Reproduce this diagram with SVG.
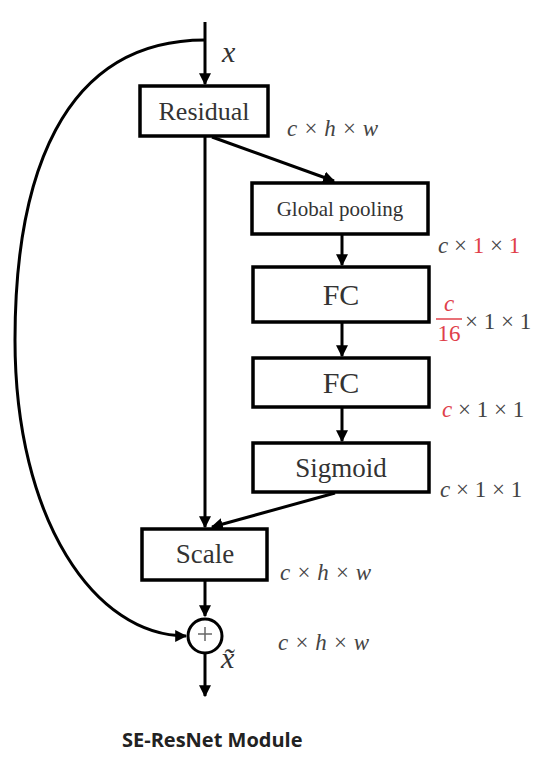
<svg xmlns="http://www.w3.org/2000/svg" width="560" height="762" viewBox="0 0 560 762">
<style>
.box{fill:#fff;stroke:#000;stroke-width:3.5}
.lbl{font-family:"Liberation Serif","Times New Roman",serif;fill:#333;text-anchor:middle}
.dim{font-family:"Liberation Serif","Times New Roman",serif;font-style:italic;font-size:23px;fill:#444}
.num{font-style:normal}
.red{fill:#e0404a}
.var{font-family:"Liberation Serif","Times New Roman",serif;font-style:italic;font-size:30px;fill:#333}
.conn{fill:none;stroke:#000;stroke-width:3}
</style>
<defs>
<marker id="ah" viewBox="0 0 10 10" refX="9" refY="5" markerWidth="4" markerHeight="4" orient="auto" markerUnits="strokeWidth">
<path d="M0,0 L10,5 L0,10 z" fill="#000"/>
</marker>
</defs>
<rect width="560" height="762" fill="#fff"/>
<g id="connectors">
<line class="conn" x1="205" y1="22" x2="205" y2="84" marker-end="url(#ah)"/>
<path class="conn" d="M205,40 C60,40 15,180 15,340 C15,520 95,636 186,636" marker-end="url(#ah)"/>
<line class="conn" x1="205" y1="137" x2="205" y2="527" marker-end="url(#ah)"/>
<line class="conn" x1="212" y1="137" x2="334" y2="181" marker-end="url(#ah)"/>
<line class="conn" x1="342" y1="235" x2="342" y2="265" marker-end="url(#ah)"/>
<line class="conn" x1="342" y1="323" x2="342" y2="356" marker-end="url(#ah)"/>
<line class="conn" x1="342" y1="408" x2="342" y2="441" marker-end="url(#ah)"/>
<line class="conn" x1="335" y1="493" x2="212" y2="527" marker-end="url(#ah)"/>
<line class="conn" x1="205" y1="581" x2="205" y2="616" marker-end="url(#ah)"/>
<line class="conn" x1="205" y1="654" x2="205" y2="696" marker-end="url(#ah)"/>
</g>
<g id="input-label"><text class="var" x="222" y="62">x</text></g>
<g id="residual">
<rect class="box" x="140" y="86" width="128" height="50"/>
<text class="lbl" x="204" y="120" font-size="26">Residual</text>
</g>
<text class="dim" x="287" y="136">c × h × w</text>
<g id="global-pooling">
<rect class="box" x="252" y="183" width="176" height="51"/>
<text class="lbl" x="340" y="216" font-size="21">Global pooling</text>
</g>
<text class="dim" x="438" y="253">c <tspan class="num">× </tspan><tspan class="num red">1</tspan><tspan class="num"> × </tspan><tspan class="num red">1</tspan></text>
<g id="fc1">
<rect class="box" x="253" y="267" width="176" height="55"/>
<text class="lbl" x="341" y="305" font-size="30">FC</text>
</g>
<g id="fc1-dim">
<text class="dim red" x="449" y="311" text-anchor="middle">c</text>
<line x1="436" y1="319" x2="462" y2="319" stroke="#e0404a" stroke-width="1.5"/>
<text class="dim num red" x="449" y="341" text-anchor="middle" style="font-style:normal">16</text>
<text class="dim num" x="465" y="329" style="font-style:normal">× 1 × 1</text>
</g>
<g id="fc2">
<rect class="box" x="253" y="358" width="176" height="49"/>
<text class="lbl" x="341" y="393" font-size="30">FC</text>
</g>
<text class="dim" x="442" y="417"><tspan class="red">c</tspan><tspan class="num"> × 1 × 1</tspan></text>
<g id="sigmoid">
<rect class="box" x="253" y="443" width="176" height="49"/>
<text class="lbl" x="341" y="477" font-size="27">Sigmoid</text>
</g>
<text class="dim" x="440" y="497">c<tspan class="num"> × 1 × 1</tspan></text>
<g id="scale">
<rect class="box" x="142" y="529" width="125" height="51"/>
<text class="lbl" x="205" y="563" font-size="27">Scale</text>
</g>
<text class="dim" x="280" y="580">c × h × w</text>
<g id="add">
<circle cx="205" cy="636" r="17" fill="#fff" stroke="#000" stroke-width="3"/>
<line x1="198" y1="634" x2="212" y2="634" stroke="#666" stroke-width="1.5"/>
<line x1="205" y1="627" x2="205" y2="641" stroke="#666" stroke-width="1.5"/>
</g>
<text class="dim" x="278" y="650">c × h × w</text>
<g id="output-label">
<text class="var" x="221" y="668">x̃</text>
</g>
<text x="122" y="747" font-family="'Open Sans','Liberation Sans',sans-serif" font-weight="bold" font-size="20" fill="#222">SE-ResNet Module</text>
</svg>
